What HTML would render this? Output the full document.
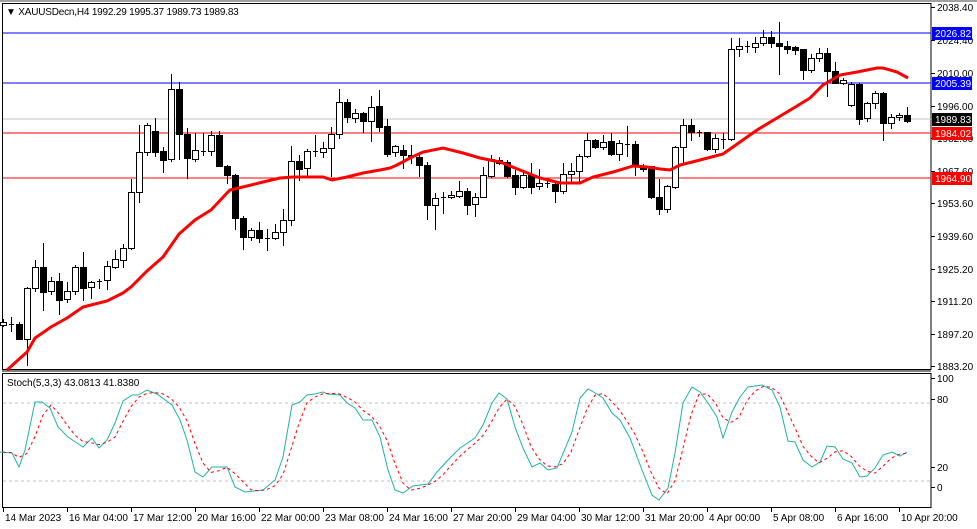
<!DOCTYPE html>
<html><head><meta charset="utf-8"><style>
body{margin:0;background:#fff;width:977px;height:529px;overflow:hidden;font-family:"Liberation Sans",sans-serif}
svg{display:block}
text{font-family:"Liberation Sans",sans-serif;font-size:10px;fill:#000}
#hl line{shape-rendering:crispEdges}
</style></head><body>
<svg id="s" width="977" height="529" xmlns="http://www.w3.org/2000/svg">
<rect x="0" y="0" width="977" height="529" fill="#fff"/>
<line x1="0" y1="1" x2="977" y2="1" stroke="#a0a0a0" stroke-width="2"/>
<rect x="2.5" y="3.5" width="928.5" height="366" fill="none" stroke="#000"/>
<rect x="2.5" y="373.5" width="928.5" height="134" fill="none" stroke="#000"/>
<line x1="2" y1="371" x2="931" y2="371" stroke="#000"/>
<g id="hl">
<line x1="3" y1="33" x2="931" y2="33" stroke="#0000ff" stroke-width="1"/>
<line x1="3" y1="83" x2="931" y2="83" stroke="#0000ff" stroke-width="1"/>
<line x1="3" y1="119" x2="931" y2="119" stroke="#c0c0c0" stroke-width="1"/>
<line x1="3" y1="133" x2="931" y2="133" stroke="#ff0000" stroke-width="1"/>
<line x1="3" y1="178" x2="931" y2="178" stroke="#ff0000" stroke-width="1"/>
<line x1="3" y1="403" x2="931" y2="403" stroke="#c0c0c0" stroke-dasharray="3,3"/>
<line x1="3" y1="481" x2="931" y2="481" stroke="#c0c0c0" stroke-dasharray="3,3"/>
</g>
<g id="candles"></g>
<polyline fill="none" stroke="#ff0000" stroke-width="3" points="7,370 27,352 35,338 51,327 67,318 83,307 91,305 107,301 123,293 131,287 147,271 163,257 179,234 195,220 211,210 227,193 230,190 247,186 263,182 280,178 293,177 323,177 332,180 347,177 363,173 380,170 390,168 397,165 410,158 423,152 443,148 463,153 480,158 500,162 520,170 540,178 560,183 580,183 593,177 613,172 633,166 647,167 660,169 670,170 680,165 700,160 723,154 740,142 757,130 777,118 797,106 810,98 823,85 840,75 857,72 877,68 883,68 897,72 908,78"/>
<polyline id="main" fill="none" stroke="#20b2aa" stroke-width="1" points=""/>
<polyline id="sig" fill="none" stroke="#ff0000" stroke-width="1" stroke-dasharray="3,3" points=""/>
<text x="6" y="15" font-size="10" letter-spacing="-0.2">▼ XAUUSDecn,H4  1992.29 1995.37 1989.73 1989.83</text>
<text x="7" y="386" font-size="10">Stoch(5,3,3) 43.0813 41.8380</text>
<g id="axis"></g>
</svg>
<script>
var s=document.getElementById('s'),NS='http://www.w3.org/2000/svg';
function el(t,a,p){var e=document.createElementNS(NS,t);for(var k in a)e.setAttribute(k,a[k]);(p||s).appendChild(e);return e;}
var C=[[322,325,319,326,1],[324,324,317,331,0],[324,339,322,339,0],[288,339,287,365,1],[267,288,260,291,1],[267,292,243,310,0],[281,291,277,294,1],[281,300,273,314,0],[291,299,282,302,1],[267,291,265,294,1],[267,288,252,300,0],[282,287,281,298,1],[281,281,279,288,0],[266,280,261,289,1],[259,267,250,268,1],[248,260,244,267,1],[192,248,179,249,1],[152,192,125,202,1],[125,152,123,155,1],[131,152,118,156,0],[151,160,147,172,0],[89,159,74,161,1],[89,134,82,159,0],[134,158,128,178,0],[150,159,133,161,1],[151,151,133,155,0],[135,151,131,155,1],[135,166,131,166,0],[166,175,165,183,0],[175,218,174,229,0],[218,237,216,249,0],[230,237,228,240,1],[230,238,222,242,0],[238,238,229,250,0],[232,238,224,239,1],[220,232,209,245,1],[161,220,146,225,1],[161,169,155,180,0],[151,168,149,177,1],[151,151,135,156,0],[148,152,142,157,1],[134,148,127,176,1],[102,134,89,138,1],[102,117,99,122,0],[113,118,109,122,1],[113,121,112,132,0],[107,121,96,141,1],[106,127,90,131,0],[126,154,119,156,0],[146,152,145,156,1],[150,155,145,168,0],[155,156,145,163,0],[157,165,153,176,0],[165,205,162,219,0],[198,205,193,229,1],[197,197,192,213,0],[195,197,191,198,1],[191,196,181,197,1],[191,205,188,214,0],[197,204,193,216,1],[175,197,167,197,1],[159,176,155,177,1],[160,163,157,164,0],[162,176,160,177,0],[175,187,170,194,0],[175,187,170,188,1],[175,187,163,193,0],[183,186,169,189,1],[183,183,179,187,0],[184,191,181,202,0],[174,191,163,193,1],[171,174,163,181,1],[156,171,154,182,1],[140,156,133,157,1],[140,147,139,148,0],[142,147,135,149,1],[141,154,133,155,0],[143,154,140,160,1],[144,144,126,156,0],[144,165,141,175,0],[166,169,164,171,0],[166,197,166,198,0],[197,209,179,214,0],[186,209,185,212,1],[147,187,146,188,1],[125,147,119,162,1],[125,132,119,140,0],[132,132,130,136,0],[132,149,132,150,0],[138,149,134,152,1],[139,139,133,148,0],[49,139,38,140,1],[46,49,38,56,1],[46,46,41,52,0],[43,47,37,52,1],[37,43,30,45,1],[37,43,31,47,0],[43,46,22,74,0],[46,49,41,53,0],[47,50,46,54,0],[49,70,49,79,0],[58,70,54,72,1],[53,58,48,61,1],[53,71,48,96,0],[71,83,62,83,0],[80,83,78,84,1],[84,105,82,106,1],[84,119,83,124,0],[103,118,102,121,1],[93,103,91,108,1],[93,123,92,140,0],[117,123,114,128,1],[115,117,113,120,1],[115,121,107,122,0]];
var g=document.getElementById('candles');
C.forEach(function(c,i){var x=3+8*i;
el('line',{x1:x+.5,y1:c[2],x2:x+.5,y2:c[3]+1,stroke:'#000'},g);
var h=Math.max(c[1]-c[0],0);
if(h<1){el('line',{x1:x-2,y1:c[0]+.5,x2:x+3,y2:c[0]+.5,stroke:'#000'},g);}
else el('rect',{x:x-2.5,y:c[0]+.5,width:6,height:h,fill:c[4]?'#fff':'#000',stroke:'#000'},g);
});
var M=[[0,452],[12,453],[19,467],[25,450],[35,402],[42,402],[50,408],[58,427],[68,437],[83,447],[92,438],[99,448],[107,440],[115,423],[123,401],[132,395],[138,395],[147,390],[157,394],[172,405],[180,420],[187,440],[195,472],[203,477],[212,467],[227,467],[235,487],[245,492],[263,490],[275,480],[283,457],[292,405],[300,402],[307,395],[315,394],[323,392],[328,394],[340,395],[347,403],[355,408],[363,420],[372,420],[380,437],[388,470],[395,490],[403,493],[413,486],[428,484],[437,472],[448,460],[460,448],[475,438],[483,425],[492,403],[499,393],[507,399],[515,427],[523,448],[532,467],[540,463],[548,470],[557,468],[572,432],[580,398],[588,389],[597,394],[603,398],[612,413],[620,420],[630,438],[642,470],[652,495],[659,500],[668,488],[675,453],[683,403],[692,387],[700,392],[708,403],[717,417],[723,438],[732,412],[740,397],[748,387],[762,385],[772,390],[780,407],[788,441],[795,442],[803,460],[812,467],[820,462],[827,446],[835,447],[843,459],[852,463],[860,477],[867,476],[875,468],[883,455],[892,452],[900,456],[907,452]];
document.getElementById('main').setAttribute('points',M.map(function(p){return p.join(',')}).join(' '));
function at(x){for(var i=1;i<M.length;i++){if(M[i][0]>=x){var a=M[i-1],b=M[i];return a[1]+(b[1]-a[1])*(x-a[0])/(b[0]-a[0]||1);}}return M[M.length-1][1];}
var v=[],pts=[];for(var x=3;x<=907;x+=8)v.push(at(x));
for(var i=0;i<v.length;i++){var a=v[Math.max(0,i-2)],b=v[Math.max(0,i-1)],c=v[i];pts.push((3+8*i)+','+((a+b+c)/3).toFixed(1));}
document.getElementById('sig').setAttribute('points',pts.join(' '));
var ax=document.getElementById('axis');
[['2038.40',7],['2024.40',40],['2010.00',73],['1996.00',106],['1982.00',138],['1967.60',171],['1953.60',203],['1939.60',236],['1925.20',269],['1911.20',301],['1897.20',334],['1883.20',366]].forEach(function(t){
el('line',{x1:931,y1:t[1]+.5,x2:935,y2:t[1]+.5,stroke:'#000'},ax);
var e=el('text',{x:937,y:t[1]+4},ax);e.textContent=t[0];});
[['100',378],['80',399],['20',467],['0',487]].forEach(function(t){el('line',{x1:931,y1:t[1]+.5,x2:935,y2:t[1]+.5,stroke:'#000'},ax);var e=el('text',{x:937,y:t[1]+4},ax);e.textContent=t[0];});
[['2026.82',33,'#0000ff','#fff'],['2005.39',83,'#0000ff','#fff'],['1989.83',119,'#000','#fff'],['1984.02',133,'#ff0000','#fff'],['1964.90',178,'#ff0000','#fff']].forEach(function(t){
el('rect',{x:932,y:t[1]-6,width:40,height:13,fill:t[2]},ax);var e=el('text',{x:935,y:t[1]+4,style:'fill:'+t[3]},ax);e.textContent=t[0];});
[['14 Mar 2023',3],['16 Mar 04:00',67],['17 Mar 12:00',131],['20 Mar 16:00',195],['22 Mar 00:00',259],['23 Mar 08:00',323],['24 Mar 16:00',387],['27 Mar 20:00',451],['29 Mar 04:00',515],['30 Mar 12:00',579],['31 Mar 20:00',643],['4 Apr 00:00',707],['5 Apr 08:00',771],['6 Apr 16:00',835],['10 Apr 20:00',899]].forEach(function(t){
el('line',{x1:t[1]+.5,y1:508,x2:t[1]+.5,y2:512,stroke:'#000'},ax);var e=el('text',{x:t[1]+2,y:521},ax);e.textContent=t[0];});
</script>
</body></html>
